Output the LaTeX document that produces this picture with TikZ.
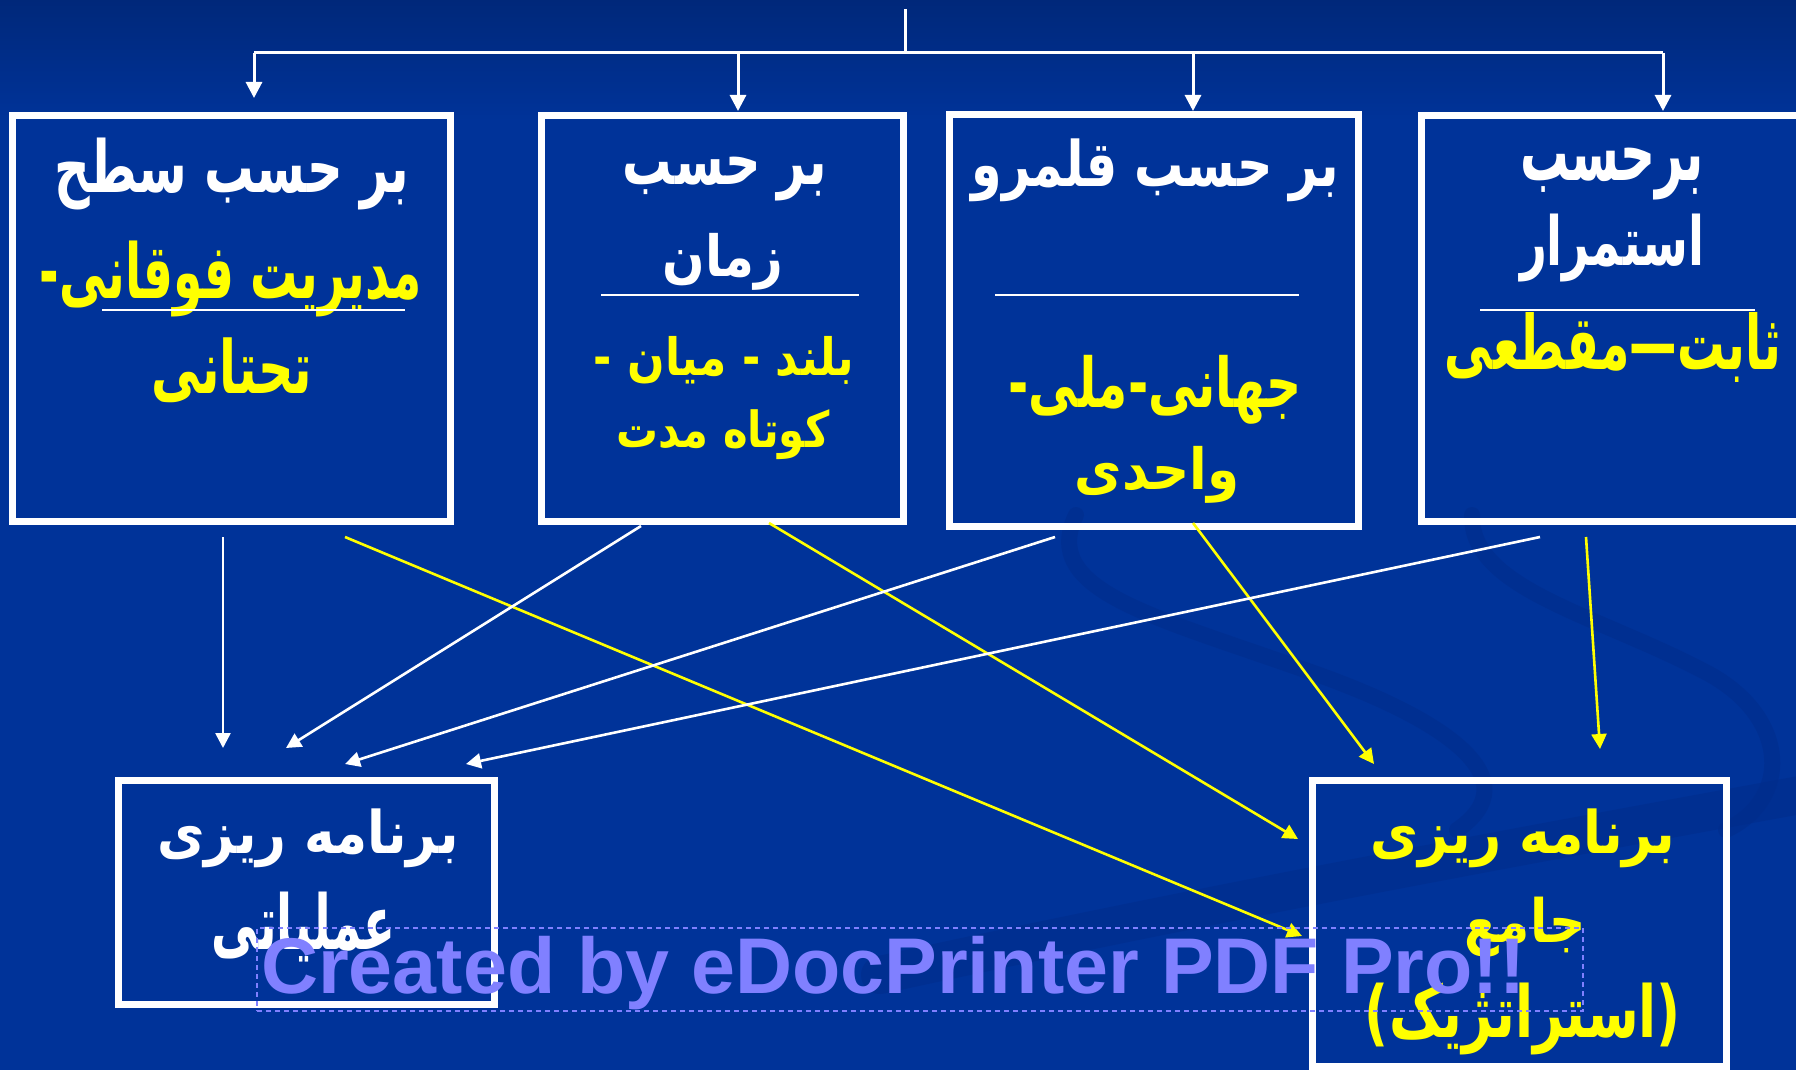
\documentclass[tikz,border=0pt]{standalone}
\usepackage{fontspec}
\usepackage{graphicx}
\usetikzlibrary{arrows.meta}
\TeXXeTstate=1
\newfontfamily\arabicfont[Script=Arabic]{DejaVu Sans}
\newfontfamily\wmfont{Liberation Sans}
\definecolor{bgblue}{RGB}{0,51,153}
\definecolor{bgtop}{RGB}{0,40,122}
\definecolor{swirlc}{RGB}{0,44,138}
\definecolor{wmc}{RGB}{128,128,255}
\definecolor{ylw}{RGB}{255,255,0}
\newcommand\artx[3]{\resizebox*{#1}{#2}{\arabicfont\bfseries\beginR #3\endR}}
\begin{document}
\begin{tikzpicture}[x=1pt,y=-1pt,
  boxst/.style={draw=white,line width=7pt,inner sep=0pt},
  lbl/.style={inner sep=0pt,anchor=center},
  wlbl/.style={lbl,text=white},
  ylbl/.style={lbl,text=ylw},
  wline/.style={draw=white,line width=3pt},
  tarr/.style={draw=white,line width=3pt,-{Triangle[width=16pt,length=16pt]}},
  warr/.style={draw=white,line width=2.6pt,-{Triangle[width=15pt,length=15pt]}},
  yarr/.style={draw=ylw,line width=2.6pt,-{Triangle[width=15pt,length=15pt]}},
  uline/.style={draw=white,line width=2.5pt},
  swirlst/.style={draw=swirlc,line cap=round,opacity=0.5},
]
\useasboundingbox (0,0) rectangle (1796,1070);
% background
\fill[bgblue] (0,0) rectangle (1796,1070);
\shade[top color=bgtop,bottom color=bgblue] (0,0) rectangle (1796,120);
% decorative swirls
\draw[swirlst,line width=38pt] (880,975) .. controls (1200,905) and (1500,850) .. (1800,795);
\draw[swirlst,line width=16pt] (1076,515) .. controls (1040,590) and (1150,615) .. (1305,670) .. controls (1450,720) and (1530,780) .. (1457,830);
\draw[swirlst,line width=16pt] (1472,515) .. controls (1470,590) and (1600,615) .. (1711,675) .. controls (1790,720) and (1790,800) .. (1726,830);
% boxes
\node[boxst,minimum width=438pt,minimum height=406pt] (b1) at (231.5,318.5) {};
\node[boxst,minimum width=362pt,minimum height=406pt] (b2) at (722.5,318.5) {};
\node[boxst,minimum width=409pt,minimum height=412pt] (b3) at (1154,320.5) {};
\node[boxst,minimum width=378.5pt,minimum height=406pt] (b4) at (1610.75,318.5) {};
\node[boxst,minimum width=376pt,minimum height=224pt] (b5) at (306.5,892.5) {};
\node[boxst,minimum width=414pt,minimum height=285.5pt] (b6) at (1519.5,923.25) {};
% box 1 texts
\node[wlbl] (t11) at (232,174) {\artx{355pt}{72pt}{بر حسب سطح}};
\node[ylbl] (t12) at (231,279) {\artx{382pt}{76pt}{مدیریت فوقانی\kern0pt-}};
\draw[uline] (102,310) -- (405,310);
\node[ylbl] (t13) at (232,370) {\artx{161pt}{65pt}{تحتانی}};
% box 2 texts
\node[wlbl] (t21) at (725,179) {\artx{204pt}{44pt}{بر حسب}};
\node[wlbl] (t22) at (723,262) {\artx{121pt}{57pt}{زمان}};
\draw[uline] (601,295) -- (859,295);
\node[ylbl] (t23) at (724,360) {\artx{260pt}{48pt}{بلند - میان -}};
\node[ylbl] (t24) at (723,435) {\artx{213pt}{50pt}{کوتاه مدت}};
% box 3 texts
\node[wlbl] (t31) at (1155,170) {\artx{367pt}{63pt}{بر حسب قلمرو}};
\draw[uline] (995,295) -- (1299,295);
\node[ylbl] (t32) at (1155,390) {\artx{293pt}{69pt}{جهانی\kern0pt-\kern0pt ملی\kern0pt-}};
\node[ylbl] (t33) at (1157,475) {\artx{164pt}{57pt}{واحدی}};
% box 4 texts
\node[wlbl] (t41) at (1612,174) {\artx{184pt}{52pt}{برحسب}};
\node[wlbl] (t42) at (1612,248) {\artx{184pt}{68pt}{استمرار}};
\draw[uline] (1480,310) -- (1755,310);
\node[ylbl] (t43) at (1613,347) {\artx{336pt}{70pt}{ثابت\kern0pt—\kern0pt مقطعی}};
% box 5 texts
\node[wlbl] (t51) at (308,838) {\artx{301pt}{59pt}{برنامه ریزی}};
\node[wlbl] (t52) at (304,927) {\artx{184pt}{70pt}{عملیاتی}};
% box 6 texts
\node[ylbl] (t61) at (1523,838) {\artx{304pt}{59pt}{برنامه ریزی}};
\node[ylbl] (t62) at (1525,927) {\artx{121pt}{60pt}{جامع}};
\node[ylbl] (t63) at (1523,1019) {\artx{316pt}{72pt}{(استراتژیک)}};
% top distribution lines
\coordinate (topend) at (905,9);
\coordinate (hub) at (905,53);
\coordinate (j1) at (254,53);
\coordinate (j2) at (738,53);
\coordinate (j3) at (1193,53);
\coordinate (j4) at (1663,53);
\coordinate (a1) at (254,98);
\coordinate (a2) at (738,111);
\coordinate (a3) at (1193,111);
\coordinate (a4) at (1663,111);
\draw[wline] (topend) -- (hub);
\draw[wline] (j1) -- (j4);
\draw[tarr] (j1) -- (a1);
\draw[tarr] (j2) -- (a2);
\draw[tarr] (j3) -- (a3);
\draw[tarr] (j4) -- (a4);
% cross connectors
\coordinate (w1s) at (223,537);  \coordinate (w1e) at (223,748);
\coordinate (y1s) at (345,537);  \coordinate (y1e) at (1302,936);
\coordinate (w2s) at (641,526);  \coordinate (w2e) at (286,748);
\coordinate (y2s) at (769,523);  \coordinate (y2e) at (1298,839);
\coordinate (w3s) at (1055,537); \coordinate (w3e) at (345,764);
\coordinate (y3s) at (1193,523); \coordinate (y3e) at (1374,764);
\coordinate (w4s) at (1540,537); \coordinate (w4e) at (466,764);
\coordinate (y4s) at (1586,537); \coordinate (y4e) at (1600,749);
\draw[warr] (w1s) -- (w1e);
\draw[yarr] (y1s) -- (y1e);
\draw[warr] (w2s) -- (w2e);
\draw[yarr] (y2s) -- (y2e);
\draw[warr] (w3s) -- (w3e);
\draw[yarr] (y3s) -- (y3e);
\draw[warr] (w4s) -- (w4e);
\draw[yarr] (y4s) -- (y4e);
% watermark
\node[draw=wmc,line width=2.6pt,dash pattern=on 5pt off 4pt,minimum width=1326pt,minimum height=83pt,inner sep=0pt] (wmframe) at (920,969.5) {};
\node[anchor=base west,inner sep=0pt,text=wmc,font=\wmfont\bfseries\fontsize{79pt}{79pt}\selectfont] (wm) at (261,993) {Created by eDocPrinter PDF Pro!!};
\end{tikzpicture}
\end{document}
